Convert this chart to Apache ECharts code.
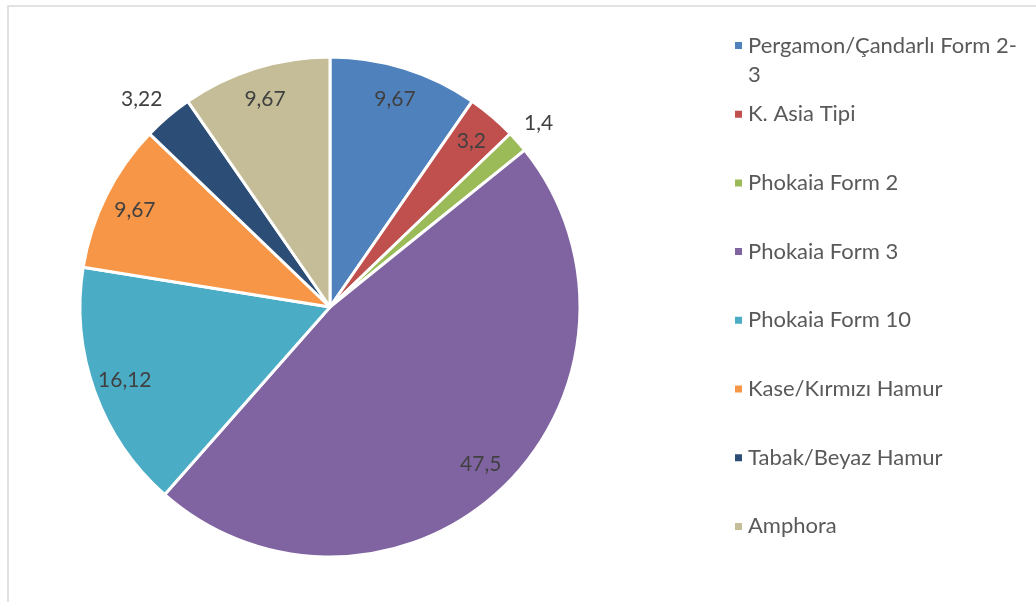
<!DOCTYPE html>
<html>
<head>
<meta charset="utf-8">
<script src="https://cdn.jsdelivr.net/npm/echarts@6/dist/echarts.min.js"></script>
<style>
html,body{margin:0;padding:0;background:#fff;}
#chart{width:1036px;height:602px;}
</style>
</head>
<body>
<div id="chart"></div>
<script>
// ---- data ----
const categories = [
  'Pergamon/Çandarlı Form 2-3',
  'K. Asia Tipi',
  'Phokaia Form 2',
  'Phokaia Form 3',
  'Phokaia Form 10',
  'Kase/Kırmızı Hamur',
  'Tabak/Beyaz Hamur',
  'Amphora'
];
const values = [9.67, 3.2, 1.4, 47.5, 16.12, 9.67, 3.22, 9.67];
const outsideLabelCategories = ['Phokaia Form 2', 'Tabak/Beyaz Hamur'];

// ---- styles ----
const colors = ['#4F81BD', '#C0504D', '#9BBB59', '#8064A2', '#4BACC6', '#F79646', '#2C4D75', '#C4BD97'];
const FONT = 'Lato';
const labelColor = '#404040';
const legendColor = '#595959';

const chart = echarts.init(document.getElementById('chart'), null, {renderer: 'canvas'});

const fmt = p => String(p.value).replace('.', ',');
const baseData = categories.map((c, i) => ({name: c, value: values[i], itemStyle: {color: colors[i]}}));
const innerLabelData = categories.map((c, i) => ({
  name: c, value: values[i],
  label: {show: outsideLabelCategories.indexOf(c) < 0}
}));
const outerLabelData = categories.map((c, i) => ({
  name: c, value: values[i],
  label: {show: outsideLabelCategories.indexOf(c) >= 0}
}));

const labelStyle = {
  position: 'inside',
  formatter: fmt,
  color: labelColor,
  fontFamily: FONT,
  fontSize: 21,
  textBorderWidth: 0,
  textShadowBlur: 0
};

const center = [330, 307];

// legend text: first line aligned with the marker, wrapped text continues below
const legendText = name => name === categories[0]
  ? '\nPergamon/Çandarlı Form 2-\n3'
  : '\n' + name + '\n';

const option = {
  backgroundColor: '#ffffff',
  animation: false,
  graphic: [{
    type: 'rect',
    shape: {x: 8, y: 6, width: 1100, height: 700},
    style: {fill: 'none', stroke: '#d9d9d9', lineWidth: 1.5},
    silent: true,
    z: -10
  }],
  legend: {
    orient: 'vertical',
    left: 733,
    top: 2,
    padding: 0,
    itemWidth: 9,
    itemHeight: 9,
    itemGap: -18.3,
    icon: 'rect',
    data: categories,
    selectedMode: false,
    formatter: legendText,
    textStyle: {
      color: legendColor,
      fontFamily: FONT,
      fontSize: 22,
      lineHeight: 29
    }
  },
  series: [
    {
      type: 'pie',
      center: center,
      radius: 250,
      startAngle: 90,
      clockwise: true,
      avoidLabelOverlap: false,
      label: {show: false},
      labelLine: {show: false},
      itemStyle: {borderColor: '#ffffff', borderWidth: 3},
      emphasis: {disabled: true},
      data: baseData
    },
    {
      type: 'pie',
      center: center,
      radius: [180, 250],
      startAngle: 90,
      clockwise: true,
      silent: true,
      avoidLabelOverlap: false,
      itemStyle: {color: 'rgba(0,0,0,0)', borderWidth: 0},
      label: labelStyle,
      labelLine: {show: false},
      emphasis: {disabled: true},
      data: innerLabelData
    },
    {
      type: 'pie',
      center: center,
      radius: [250, 300],
      startAngle: 90,
      clockwise: true,
      silent: true,
      avoidLabelOverlap: false,
      itemStyle: {color: 'rgba(0,0,0,0)', borderWidth: 0},
      label: labelStyle,
      labelLine: {show: false},
      labelLayout: p => p.dataIndex === 6 ? {dx: -8, dy: 4} : {},
      emphasis: {disabled: true},
      data: outerLabelData
    }
  ]
};
chart.setOption(option);
</script>
</body>
</html>
